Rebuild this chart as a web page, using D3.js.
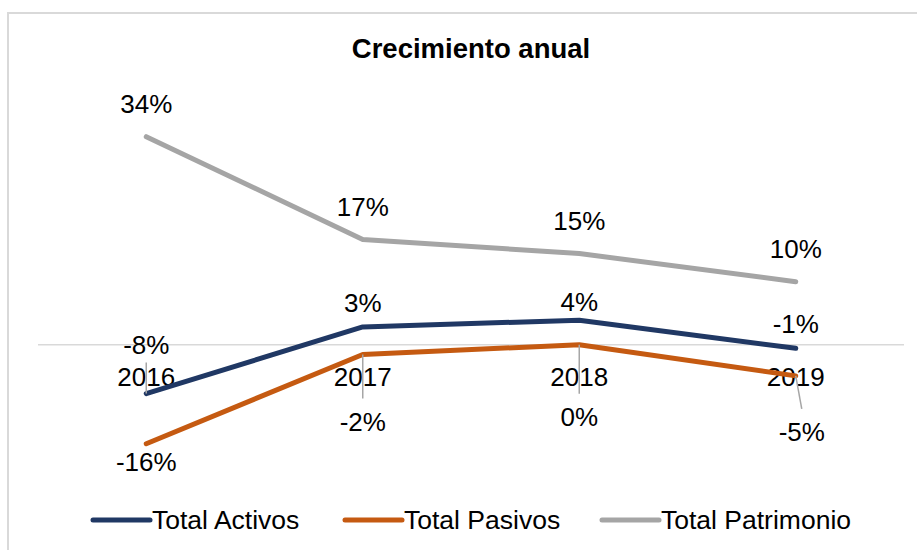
<!DOCTYPE html>
<meta charset="utf-8">
<style>
  body { margin: 0; background: #fff; }
  text { font-family: "Liberation Sans", Arial, sans-serif; fill: #000; }
</style>
<body>
<script src="https://cdn.jsdelivr.net/npm/d3@7"></script>
<script>

// data
var years = ["2016", "2017", "2018", "2019"];
var activos = [-0.080, 0.029, 0.040, -0.006];
var pasivos = [-0.162, -0.016, 0.000, -0.051];
var patrimonio = [0.340, 0.172, 0.149, 0.103];

var seriesNames = ["Total Activos", "Total Pasivos", "Total Patrimonio"];
var seriesColors = ["#203864", "#c55a11", "#a5a5a5"];

// label nudges (px): [dx, dy] from the point, null = default
var labelNudge = [
  [[0, -49], null, [0, -18], null],
  [null, [0, 67], [0, 72], [6, 56]],
  [null, null, null, null]
];

var width = 917, height = 550;

var svg = d3.select("body").append("svg")
    .attr("width", width)
    .attr("height", height);

// outer chart border (only top/left visible)
svg.append("rect")
    .attr("x", 8).attr("y", 13)
    .attr("width", 1000).attr("height", 1000)
    .attr("fill", "none")
    .attr("stroke", "#d9d9d9")
    .attr("stroke-width", 2);

var x = d3.scaleBand()
    .domain(years)
    .range([38, 904]);

var y = d3.scaleLinear()
    .domain([-0.20, 0.40])
    .range([467, 100]);

var fmt = function(v) { return Math.round(v * 100) + "%"; };

// title
svg.append("text")
    .attr("x", 471).attr("y", 58)
    .attr("text-anchor", "middle")
    .style("font-size", "27.5px")
    .style("font-weight", "bold")
    .text("Crecimiento anual");

// zero line
svg.append("line")
    .attr("x1", x.range()[0]).attr("x2", x.range()[1])
    .attr("y1", y(0)).attr("y2", y(0))
    .attr("stroke", "#d9d9d9")
    .attr("stroke-width", 1.5);

// category labels sit just below the zero line
svg.append("g").selectAll("text")
    .data(years)
  .enter().append("text")
    .attr("x", function(d) { return x(d) + x.bandwidth() / 2; })
    .attr("y", y(0) + 32)
    .attr("dy", "0.35em")
    .attr("text-anchor", "middle")
    .style("font-size", "26px")
    .text(function(d) { return d; });

var series = [activos, pasivos, patrimonio].map(function(vals, i) {
  return {
    name: seriesNames[i],
    color: seriesColors[i],
    points: vals.map(function(v, j) { return { year: years[j], value: v, nudge: labelNudge[i][j] }; })
  };
});

var cx = function(d) { return x(d.year) + x.bandwidth() / 2; };

var line = d3.line()
    .x(cx)
    .y(function(d) { return y(d.value); });

// default label position: Activos & Patrimonio above, Pasivos below
var defaultDy = [-24, 18, -33];

function labelPos(d, i) {
  var px = cx(d), py = y(d.value);
  if (d.nudge) return [px + d.nudge[0], py + d.nudge[1]];
  return [px, py + defaultDy[i]];
}

series.forEach(function(s, i) {
  svg.append("path")
      .datum(s.points)
      .attr("fill", "none")
      .attr("stroke", s.color)
      .attr("stroke-width", 5)
      .attr("stroke-linecap", "round")
      .attr("stroke-linejoin", "round")
      .attr("d", line);
});

// leader lines for moved labels
series.forEach(function(s, i) {
  svg.append("g").selectAll("line")
      .data(s.points.filter(function(d) { return d.nudge; }))
    .enter().append("line")
      .attr("x1", cx)
      .attr("y1", function(d) { return y(d.value); })
      .attr("x2", function(d) { return labelPos(d, i)[0]; })
      .attr("y2", function(d) {
        var p = labelPos(d, i);
        return d.nudge[1] < 0 ? p[1] + 18 : p[1] - 23;
      })
      .attr("stroke", "#a6a6a6")
      .attr("stroke-width", 1.5);
});

// data labels
series.forEach(function(s, i) {
  svg.append("g").selectAll("text")
      .data(s.points)
    .enter().append("text")
      .attr("x", function(d) { return labelPos(d, i)[0]; })
      .attr("y", function(d) { return labelPos(d, i)[1]; })
      .attr("dy", "0.35em")
      .attr("text-anchor", "middle")
      .style("font-size", "26px")
      .text(function(d) { return fmt(d.value); });
});

// legend
var legendX = [93, 345, 602];
var legend = svg.append("g").selectAll("g")
    .data(series)
  .enter().append("g")
    .attr("transform", function(d, i) { return "translate(" + legendX[i] + ",520)"; });

legend.append("line")
    .attr("x1", 0).attr("x2", 57)
    .attr("stroke", function(d) { return d.color; })
    .attr("stroke-width", 5)
    .attr("stroke-linecap", "round");

legend.append("text")
    .attr("x", 59)
    .attr("dy", "0.35em")
    .style("font-size", "26.5px")
    .text(function(d) { return d.name; });

</script>
</body>
</html>
